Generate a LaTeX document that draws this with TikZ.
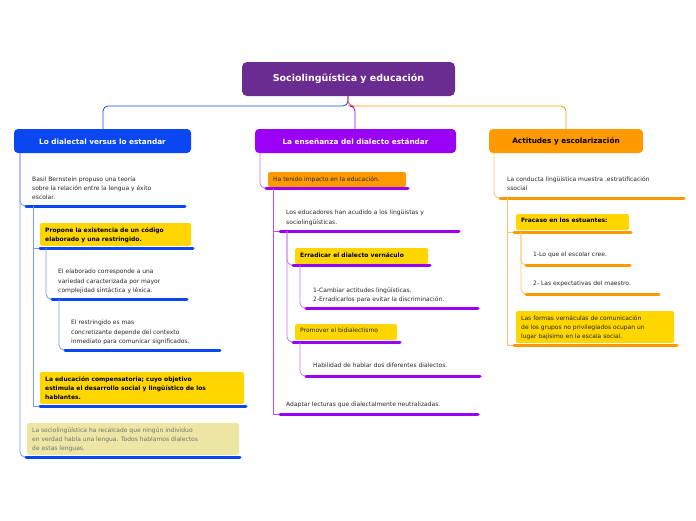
\documentclass[tikz,border=0pt]{standalone}
\usepackage{fontspec}
\setmainfont{DejaVu Sans}
\begin{document}
\begin{tikzpicture}[x=1pt,y=-1pt,
 txt/.style={anchor=north west,inner sep=0pt,align=left,font=\fontsize{6}{9.3}\selectfont,text=black!85},
 bx/.style={rounded corners=2pt,inner sep=0pt},
 bar/.style={line width=3pt,line cap=round},
 lk/.style={line width=0.8pt,rounded corners=5pt},
 hdr/.style={rounded corners=4pt,text=white,font=\fontsize{7.5}{9}\selectfont\bfseries}]
\definecolor{cB}{HTML}{0A47F0}\definecolor{cP}{HTML}{9A00F5}\definecolor{cO}{HTML}{FF9900}
\definecolor{cR}{HTML}{6A2C91}\definecolor{cY}{HTML}{FFD600}\definecolor{cK}{HTML}{EEE6A4}
\colorlet{lB}{cB!55}\colorlet{lP}{cP!55}\colorlet{lO}{cO!60}
\useasboundingbox (0,0) rectangle (696,520);
% root and headers
\fill[cR,rounded corners=5pt] (242,62) rectangle (455,96);
\node[text=white,font=\fontsize{9.5}{11}\selectfont\bfseries] (root) at (348.5,79) {Sociolingüística y educación};
\fill[cB,rounded corners=4pt] (14,129) rectangle (191,153);
\node[text=white,font=\fontsize{7.3}{9}\selectfont\bfseries] (hB) at (102.5,141.5) {Lo dialectal versus lo estandar};
\fill[cP,rounded corners=4pt] (255,129) rectangle (456,153);
\node[text=white,font=\fontsize{7.3}{9}\selectfont\bfseries] (hP) at (355.5,141.5) {La enseñanza del dialecto estándar};
\fill[cO,rounded corners=4pt] (489,129) rectangle (643,153);
\node[text=black,font=\fontsize{7.3}{9}\selectfont\bfseries] (hO) at (566,141.5) {Actitudes y escolarización};
\draw[cB,lk] (348,96) -- (348,106) -| (103,129);
\draw[cP,lk] (348,96) -- (348,106) -| (355,129);
\draw[cO,lk] (348,96) -- (348,106) -| (566,129);
% blue branch
\draw[lB,lk] (20,153) |- (26,206); \draw[lB,lk] (20,153) |- (26,457);
\node[txt] (b1) at (32,176) {Basil Bernstein propuso una teoría\\sobre la relación entre la lengua y éxito\\escolar.};
\draw[cB,bar] (26,206) -- (185,206);
\draw[lB,line width=0.8pt] (33,206) |- (40,248); \draw[lB,line width=0.8pt] (33,206) |- (40,406);
\fill[cY,bx] (40,223) rectangle (191,246);
\node[txt,font=\fontsize{6}{9.3}\selectfont\bfseries,text=black] (b2) at (45,227) {Propone la existencia de un código\\elaborado y una restringido.};
\draw[cB,bar] (40,248) -- (193,248);
\draw[lB,lk] (46,248) |- (52,299);
\node[txt] (b3) at (58,269) {El elaborado corresponde a una\\variedad caracterizada por mayor\\complejidad sintáctica y léxica.};
\draw[cB,bar] (52,299) -- (187,299);
\draw[lB,lk] (59,299) |- (65,350);
\node[txt] (b4) at (71,320) {El restringido es mas\\concretizante depende del contexto\\inmediato para comunicar significados.};
\draw[cB,bar] (65,350) -- (220,350);
\fill[cY,bx] (40,372) rectangle (244,404);
\node[txt,font=\fontsize{6}{9.3}\selectfont\bfseries,text=black] (b5) at (45,376) {La educación compensatoria; cuyo objetivo\\estimula el desarrollo social y lingüístico de los\\hablantes.};
\draw[cB,bar] (40,406) -- (246,406);
\fill[cK,bx] (27,423) rectangle (239,455);
\node[txt,text=black!55] (b6) at (32,427) {La sociolingüística ha recalcado que ningún individuo\\en verdad habla una lengua. Todos hablamos dialectos\\de estas lenguas.};
\draw[cB,bar] (26,457) -- (240,457);
% purple branch
\draw[lP,lk] (260,153) |- (266,188);
\fill[cO,bx] (268,172) rectangle (406,187);
\node[txt] (p1) at (273,176) {Ha tenido impacto en la educación.};
\draw[cP,bar] (266,188) -- (408,188);
\draw[cP!70,line width=0.8pt] (273,188) |- (280,231); \draw[cP!70,line width=0.8pt] (273,188) |- (280,414);
\node[txt] (p2) at (286,210) {Los educadores han acudido a los lingüistas y\\sociolingüísticas.};
\draw[cP,bar] (280,231) -- (459,231);
\draw[lP,lk] (287,231) |- (293,265); \draw[lP,lk] (287,231) |- (293,342);
\fill[cY,bx] (295,248) rectangle (428,264);
\node[txt,font=\fontsize{6}{9.3}\selectfont\bfseries,text=black] (p3) at (300,252) {Erradicar el dialecto vernáculo};
\draw[cP,bar] (293,265) -- (430,265);
\draw[lP,lk] (300,265) |- (306,308);
\node[txt] (p4) at (313,287) {1-Cambiar actitudes lingüísticas.\\2-Erradicarlos para evitar la discriminación.};
\draw[cP,bar] (306,308) -- (478,308);
\fill[cY,bx] (295,324) rectangle (397,340);
\node[txt] (p5) at (300,328) {Promover el bidialectismo};
\draw[cP,bar] (293,342) -- (400,342);
\draw[lP,lk] (300,342) |- (306,376);
\node[txt] (p6) at (313,363) {Habilidad de hablar dos diferentes dialectos.};
\draw[cP,bar] (306,376) -- (480,376);
\node[txt] (p7) at (286,402) {Adaptar lecturas que dialectalmente neutralizadas.};
\draw[cP,bar] (280,414) -- (478,414);
% orange branch
\draw[lO,lk] (494,153) |- (500,198);
\node[txt] (o1) at (507,176) {La conducta lingüística muestra .estratificación\\ssocial};
\draw[cO,bar] (500,198) -- (684,198);
\draw[lO,line width=0.8pt] (507,198) |- (514,232); \draw[lO,line width=0.8pt] (507,198) |- (514,345);
\fill[cY,bx] (516,214) rectangle (629,230);
\node[txt,font=\fontsize{6}{9.3}\selectfont\bfseries,text=black] (o2) at (521,218) {Fracaso en los estuantes:};
\draw[cO,bar] (514,232) -- (631,232);
\draw[lO,lk] (521,232) |- (526,265); \draw[lO,lk] (521,232) |- (526,294);
\node[txt] (o3) at (533,252) {1-Lo que el escolar cree.};
\draw[cO,bar] (526,265) -- (630,265);
\node[txt] (o4) at (533,281) {2- Las expectativas del maestro.};
\draw[cO,bar] (526,294) -- (659,294);
\fill[cY,bx] (516,311) rectangle (674,343);
\node[txt] (o5) at (521,315) {Las formas vernáculas de comunicación\\de los grupos no privilegiados ocupan un\\lugar bajísimo en la escala social.};
\draw[cO,bar] (514,345) -- (677,345);
\end{tikzpicture}
\end{document}
